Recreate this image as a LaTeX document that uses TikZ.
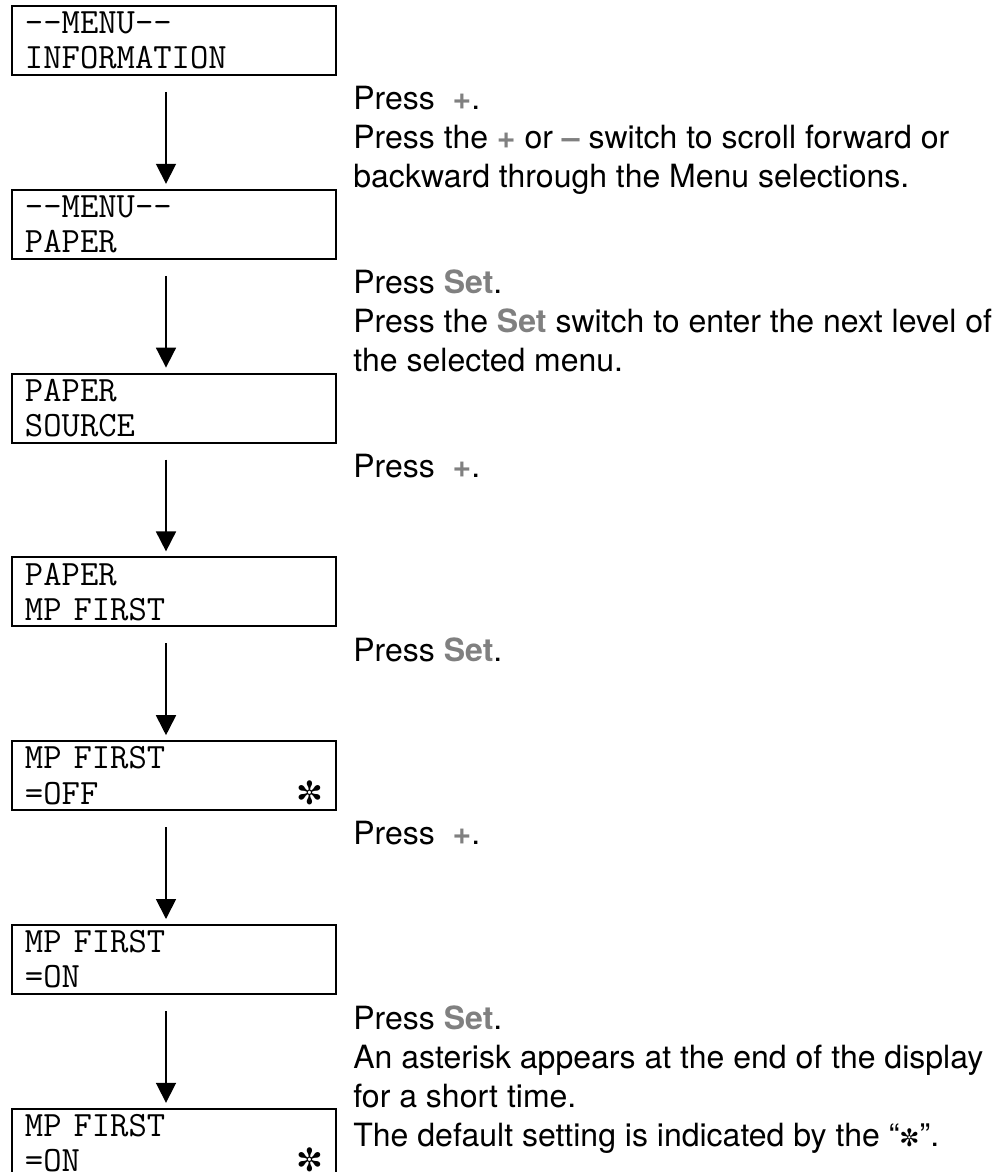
\documentclass[tikz,border=0pt]{standalone}
\usepackage{fontspec}
\usepackage{xcolor}
\usepackage{tikz}
\usetikzlibrary{arrows.meta,positioning}
\setmainfont{TeX Gyre Heros}
\newfontfamily\symfont{DejaVu Sans}
\definecolor{keygray}{gray}{0.5}
\newcommand{\btn}[1]{\textbf{\textcolor{keygray}{#1}}}
\newcommand{\dfltmark}[1][16]{{\symfont\fontsize{#1}{#1}\selectfont ✼}}

\begin{document}
\begin{tikzpicture}[
    x=0.5pt, y=-0.5pt,
    node distance=56.4pt,
    lcd/.style={draw, line width=1pt, minimum width=162pt, minimum height=34.5pt, text width=149pt, inner xsep=6.5pt, inner ysep=0pt, align=left, font=\ttfamily\fontsize{17.8}{17.6}\selectfont},
    arr/.style={-{Triangle[length=10pt, width=10pt]}, line width=0.9pt, shorten <=8pt, shorten >=2.5pt},
    note/.style={anchor=north west, inner sep=0pt, align=left, font=\fontsize{16}{19.5}\selectfont}
]
\useasboundingbox (0,0) rectangle (997,1172);

\node[lcd, anchor=north west] (d1) at (11,5) {-{}-MENU-{}-\\INFORMATION};
\node[lcd, below=of d1] (d2) {-{}-MENU-{}-\\PAPER};
\node[lcd, below=of d2] (d3) {PAPER\\SOURCE};
\node[lcd, below=of d3] (d4) {PAPER\\MP\ FIRST};
\node[lcd, below=of d4] (d5) {MP\ FIRST\\=OFF\hfill\dfltmark\hspace*{2pt}};
\node[lcd, below=of d5] (d6) {MP\ FIRST\\=ON};
\node[lcd, below=of d6] (d7) {MP\ FIRST\\=ON\hfill\dfltmark\hspace*{2pt}};

\node[note] (t1) at ([xshift=8pt, yshift=-5pt] d1.south east) {Press\ \ \btn{+}.\\Press the \btn{+} or \btn{–} switch to scroll forward or\\backward through the Menu selections.};
\node[note] (t2) at ([xshift=8pt, yshift=-5pt] d2.south east) {Press \btn{Set}.\\Press the \btn{Set} switch to enter the next level of\\the selected menu.};
\node[note] (t3) at ([xshift=8pt, yshift=-5pt] d3.south east) {Press\ \ \btn{+}.};
\node[note] (t4) at ([xshift=8pt, yshift=-5pt] d4.south east) {Press \btn{Set}.};
\node[note] (t5) at ([xshift=8pt, yshift=-5pt] d5.south east) {Press\ \ \btn{+}.};
\node[note] (t6) at ([xshift=8pt, yshift=-5pt] d6.south east) {Press \btn{Set}.\\An asterisk appears at the end of the display\\for a short time.\\The default setting is indicated by the “\dfltmark[12]”.};

\draw[arr] ([xshift=-4pt]d1.south) -- ([xshift=-4pt]d2.north);
\draw[arr] ([xshift=-4pt]d2.south) -- ([xshift=-4pt]d3.north);
\draw[arr] ([xshift=-4pt]d3.south) -- ([xshift=-4pt]d4.north);
\draw[arr] ([xshift=-4pt]d4.south) -- ([xshift=-4pt]d5.north);
\draw[arr] ([xshift=-4pt]d5.south) -- ([xshift=-4pt]d6.north);
\draw[arr] ([xshift=-4pt]d6.south) -- ([xshift=-4pt]d7.north);
\end{tikzpicture}
\end{document}
